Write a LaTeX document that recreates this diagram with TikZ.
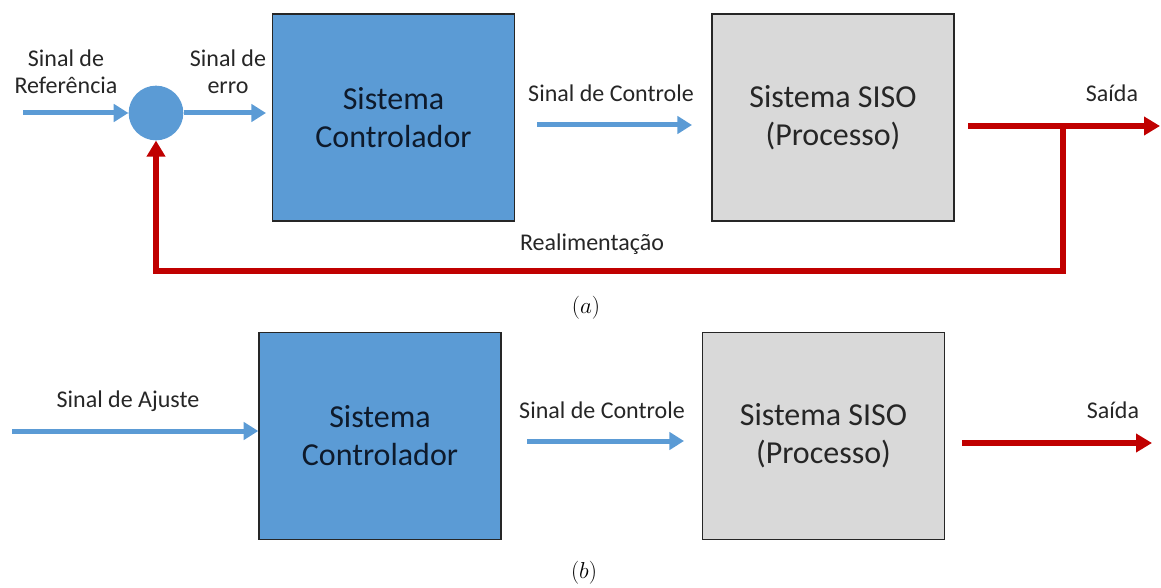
\documentclass[tikz,border=0pt]{standalone}
\usepackage{fontspec}
\setmainfont{Carlito}
\usetikzlibrary{arrows.meta}
\definecolor{cblue}{HTML}{5B9BD5}
\definecolor{cred}{HTML}{C00000}
\definecolor{cgray}{HTML}{D9D9D9}
\definecolor{cedge}{HTML}{262626}
\definecolor{ctext}{HTML}{262626}
\definecolor{cnavy}{HTML}{0E1A2B}
\begin{document}
\begin{tikzpicture}[x=0.75pt,y=-0.75pt,
  blk/.style={draw=cedge, line width=1.1pt, minimum width=181.5pt, minimum height=155pt, align=center, inner sep=0pt, font=\fontsize{24}{28.5}\selectfont},
  ctrlbox/.style={blk, fill=cblue, text=cnavy},
  sisobox/.style={blk, fill=cgray, text=ctext},
  lbl/.style={align=center, inner sep=0pt, text=ctext, font=\fontsize{18}{20.5}\selectfont},
  captxt/.style={inner sep=0pt, font=\fontsize{17.5}{20}\selectfont},
  barrow/.style={draw=cblue, line width=3.75pt, -{Triangle[length=11pt,width=13pt]}},
  rarrow/.style={draw=cred, line width=5pt, -{Triangle[length=12pt,width=13.5pt]}}]
\useasboundingbox (0,0) rectangle (1161,588);

% ---------- (a) ----------
\node[ctrlbox] (ctrlA) at (393.5,117.5) {Sistema\\Controlador};
\node[sisobox] (sisoA) at (833,117.5) {Sistema SISO\\(Processo)};
\node[circle, fill=cblue, minimum size=41pt, inner sep=0pt] (sum) at (156,113) {};

\node[lbl] (refl) at (66,72) {Sinal de\\Referência};
\node[lbl] (errl) at (228,72) {Sinal de\\erro};
\node[lbl] (ctlA) at (611,93) {Sinal de Controle};
\node[lbl] (outA) at (1112,93) {Saída};
\node[lbl] (fbl) at (592,244) {Realimentação};
\node[captxt] (capA) at (586,308) {$(a)$};

\coordinate (refS) at (23,113);
\draw[barrow] (refS) -- (sum.west);
\coordinate (errE) at (266,113);
\draw[barrow] (sum.east) -- (errE);
\coordinate (cA1) at (537,125);
\coordinate (cA2) at (692,125);
\draw[barrow] (cA1) -- (cA2);

\coordinate (oA1) at (968,126);
\coordinate (oA2) at (1160,126);
\coordinate (jA) at (1063,126);
\coordinate (fbA) at (1063,271);
\draw[rarrow] (oA1) -- (oA2);
\draw[rarrow, line join=miter] (jA) -- (fbA) -| (sum.south);

% ---------- (b) ----------
\node[ctrlbox] (ctrlB) at (380,436) {Sistema\\Controlador};
\node[sisobox] (sisoB) at (823.5,436) {Sistema SISO\\(Processo)};

\node[lbl] (adjl) at (128,401) {Sinal de Ajuste};
\node[lbl] (ctlB) at (602,410) {Sinal de Controle};
\node[lbl] (outB) at (1113,410) {Saída};
\node[captxt] (capB) at (584,573) {$(b)$};

\coordinate (adjS) at (12,431);
\draw[barrow] (adjS) -- (ctrlB.west |- adjS);
\coordinate (cB1) at (527,441);
\coordinate (cB2) at (684,441);
\draw[barrow] (cB1) -- (cB2);
\coordinate (oB1) at (962,443);
\coordinate (oB2) at (1152,443);
\draw[rarrow] (oB1) -- (oB2);
\end{tikzpicture}
\end{document}
